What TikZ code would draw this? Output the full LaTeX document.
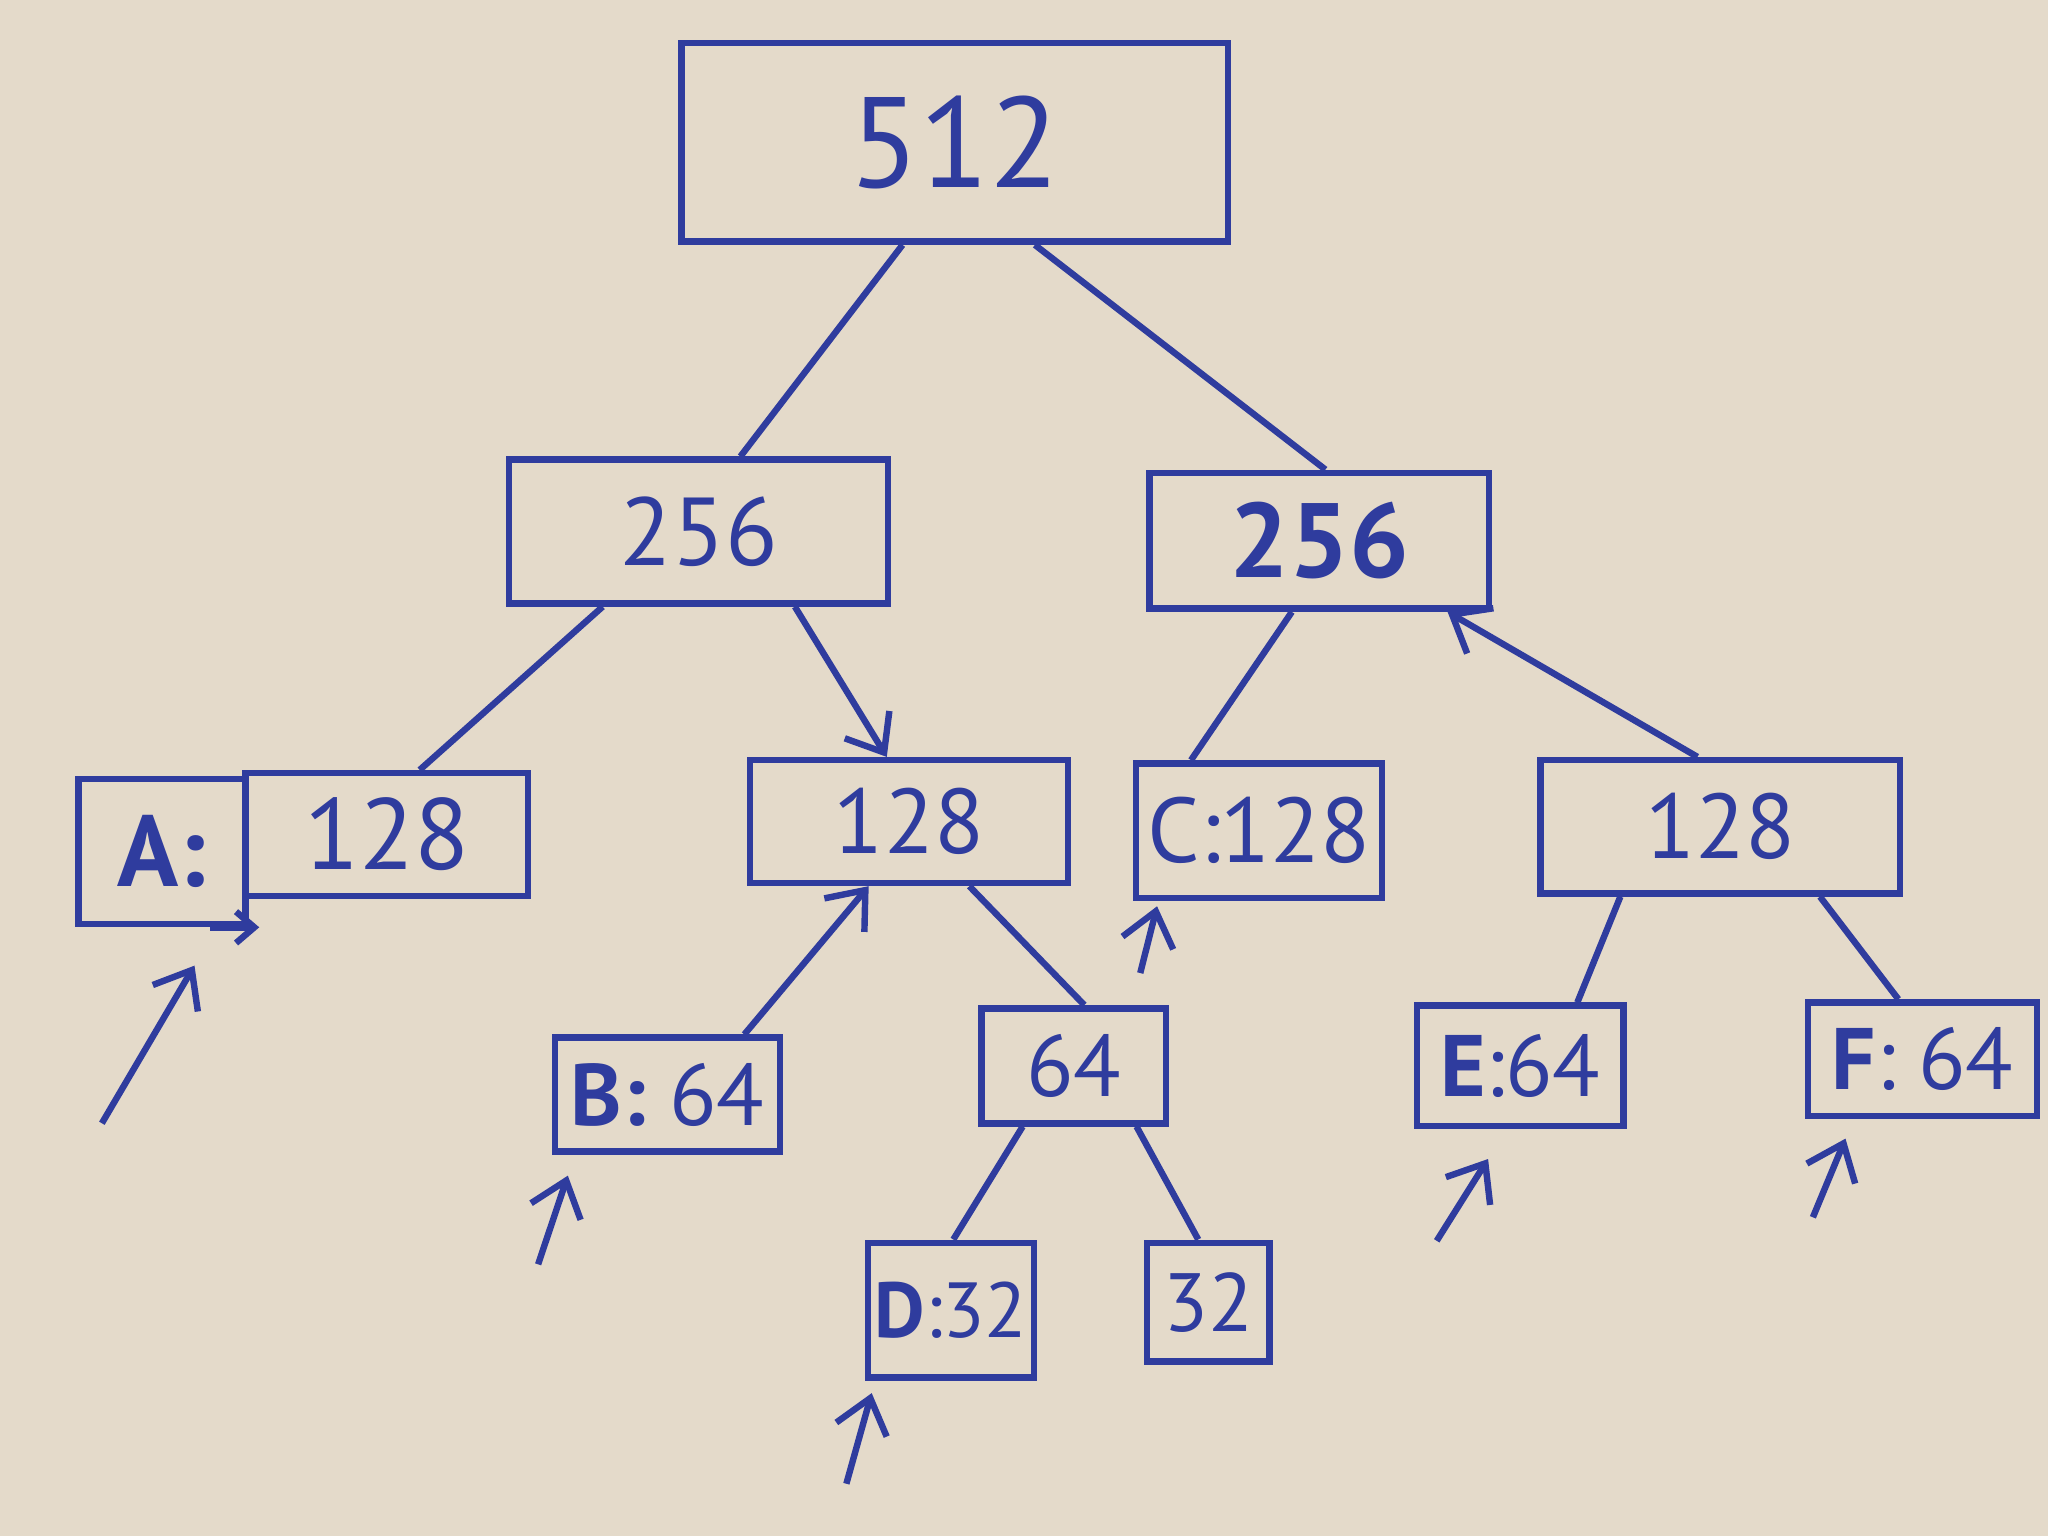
\documentclass[tikz,border=0pt]{standalone}
\usepackage{fontspec}
\setmainfont{PT Sans}
\usetikzlibrary{arrows.meta, positioning}
\definecolor{paper}{HTML}{E4DACA}
\definecolor{ink}{HTML}{2F3C9E}
\newcommand{\fs}[1]{\fontsize{#1}{#1}\selectfont}
\tikzstyle{block} = [rectangle, draw=ink, line width=1.4pt, text=ink, inner sep=0pt, text centered]
\tikzstyle{edge} = [draw=ink, line width=1.4pt]
\tikzstyle{arrow} = [edge, -{Straight Barb[length=2.5mm, width=4mm]}]

\begin{document}
\begin{tikzpicture}[x=0.01cm, y=-0.01cm]
    % Paper
    \fill[paper] (0,0) rectangle (1568,1176);
    \useasboundingbox (0,0) rectangle (1568,1176);

    % Root
    \node[block, minimum width=4.18cm, minimum height=1.52cm, font={\fs{28}}] (root) at (731,109) {512};

    % First split
    \node[block, minimum width=2.90cm, minimum height=1.10cm, font={\fs{21}}] (left) at (535,407) {256};
    \node[block, minimum width=2.60cm, minimum height=1.04cm, font={\fs{23}\bfseries}] (right) at (1010,414) {256};

    % Second split
    \node[block, minimum width=1.28cm, minimum height=1.11cm, font={\fs{22}\bfseries}] (A) at (124,652) {A:};
    \node[block, minimum width=2.16cm, minimum height=0.94cm, font={\fs{22}}, right=-1.4pt of A, yshift=0.13cm] (A128) {128};
    \node[block, minimum width=2.43cm, minimum height=0.94cm, font={\fs{20}}] (mid) at (696,629) {128};
    \node[block, minimum width=1.88cm, minimum height=1.03cm, font={\fs{20}}] (C) at (964,636) {C:128};
    \node[block, minimum width=2.75cm, minimum height=1.02cm, font={\fs{20}}] (rmid) at (1317,633) {128};

    % Third split
    \node[block, minimum width=1.72cm, minimum height=0.87cm, font={\fs{19}}] (B) at (511,838) {\textbf{B:} 64};
    \node[block, minimum width=1.41cm, minimum height=0.88cm, font={\fs{19}}] (sixfour) at (822,816) {64};
    \node[block, minimum width=1.58cm, minimum height=0.92cm, font={\fs{19}}] (E) at (1164,816) {\textbf{E}:64};
    \node[block, minimum width=1.75cm, minimum height=0.87cm, font={\fs{19}}] (F) at (1472,811) {\textbf{F}: 64};

    % Last split
    \node[block, minimum width=1.27cm, minimum height=1.03cm, font={\fs{17}}] (D) at (728,1003) {\textbf{D}:32};
    \node[block, minimum width=0.94cm, minimum height=0.91cm, font={\fs{18}}] (thirtytwo) at (925,997) {32};

    % Edges
    \draw[edge] (root.-117) -- (left.61);
    \draw[edge] (root.-52) -- (right.85);
    \draw[edge] (left.-142) -- (A128.63);
    \draw[arrow] (left.-38) -- (mid.109);
    \draw[edge] (right.-111) -- (C.134);
    \draw[arrow] (rmid.108) -- (right.-29);
    \draw[arrow] (B.38) -- (mid.-122);
    \draw[edge] (mid.-47) -- (sixfour.80);
    \draw[edge] (sixfour.-130) -- (D.88);
    \draw[edge] (sixfour.-44) -- (thirtytwo.99);
    \draw[edge] (rmid.-145) -- (E.48);
    \draw[edge] (rmid.-35) -- (F.112);
    \draw[edge, -{Straight Barb[length=1.4mm, width=2.4mm]}] ([xshift=-0.3cm]A.south east) -- ([xshift=0.08cm]A.south east);

    % Pointers to the leaves
    \coordinate (pA) at (78,860);
    \coordinate (pB) at (412,968);
    \coordinate (pC) at (873,745);
    \coordinate (pD) at (648,1136);
    \coordinate (pE) at (1100,950);
    \coordinate (pF) at (1388,932);
    \draw[arrow, shorten >=0.34cm] (pA) -- (A.-54);
    \draw[arrow, shorten >=0.17cm] (pB) -- (B.-147);
    \draw[arrow, shorten >=0.04cm] (pC) -- (C.-145);
    \draw[arrow, shorten >=0.10cm] (pD) -- (D.-137);
    \draw[arrow, shorten >=0.27cm] (pE) -- (E.-102);
    \draw[arrow, shorten >=0.16cm] (pF) -- (F.-139);
\end{tikzpicture}
\end{document}
